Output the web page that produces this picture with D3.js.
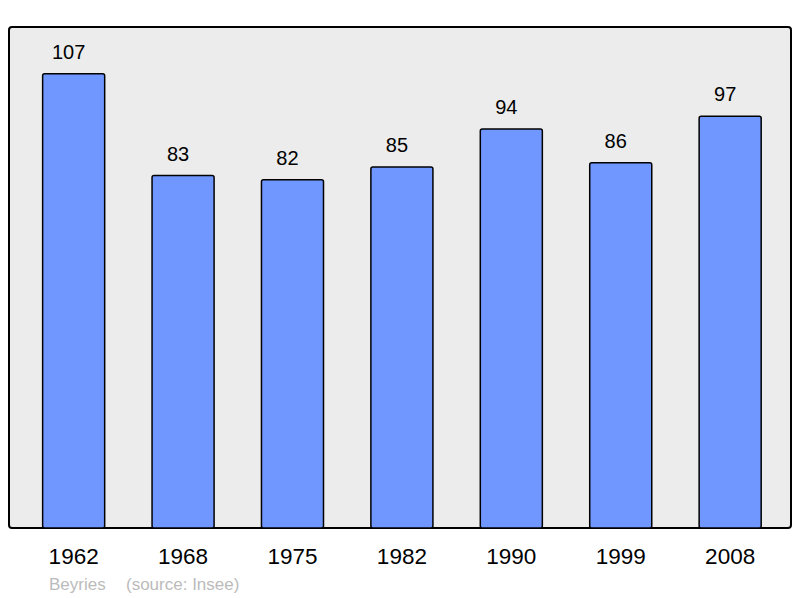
<!DOCTYPE html>
<html>
<head>
<meta charset="utf-8">
<script src="https://cdn.jsdelivr.net/npm/d3@7"></script>
<style>
  body { margin: 0; background: #fff; }
  text { font-family: "Liberation Sans", Arial, sans-serif; }
</style>
</head>
<body>
<div class="chart"></div>
<script>
const years = ["1962", "1968", "1975", "1982", "1990", "1999", "2008"];
const population = [107, 83, 82, 85, 94, 86, 97];
const town = "Beyries";
const source = "(source: Insee)";

const W = 800, H = 598;
const frame = { left: 9, right: 791, top: 27, bottom: 528 };

const svg = d3.select(".chart")
  .append("svg")
  .attr("width", W)
  .attr("height", H);

// frame background
svg.append("rect")
  .attr("x", frame.left)
  .attr("y", frame.top)
  .attr("width", frame.right - frame.left)
  .attr("height", frame.bottom - frame.top)
  .attr("rx", 3)
  .attr("fill", "#ececec")
  .attr("stroke", "#000")
  .attr("stroke-width", 2);

const data = years.map((y, i) => ({ year: y, value: population[i] }));

const x = d3.scaleBand()
  .domain(years)
  .range([frame.left, frame.right])
  .paddingInner(0.433)
  .paddingOuter(0.29)
  .align(0.53);

const y = d3.scaleLinear()
  .domain([0, 118])
  .range([frame.bottom, frame.top]);

// bars
svg.selectAll(".bar")
  .data(data)
  .enter()
  .append("rect")
  .attr("class", "bar")
  .attr("x", d => x(d.year))
  .attr("y", d => y(d.value))
  .attr("width", x.bandwidth())
  .attr("height", d => y(0) - y(d.value))
  .attr("rx", 2)
  .attr("fill", "#7097ff")
  .attr("stroke", "#000")
  .attr("stroke-width", 1.5);

// value labels (sit a little left of the bar centre, as in the original)
svg.selectAll(".val")
  .data(data)
  .enter()
  .append("text")
  .attr("x", d => x(d.year) + x.bandwidth() / 2 - 5)
  .attr("y", d => y(d.value) - 15)
  .attr("text-anchor", "middle")
  .attr("font-size", "20px")
  .attr("fill", "#000")
  .text(d => d.value);

// x axis labels
const xAxis = svg.append("g")
  .attr("transform", `translate(0, ${frame.bottom})`)
  .call(d3.axisBottom(x).tickSize(0).tickPadding(0));
xAxis.select(".domain").remove();
xAxis.selectAll("text")
  .attr("dy", null)
  .attr("y", 36)
  .attr("font-size", "22.5px")
  .attr("font-family", "Liberation Sans, Arial, sans-serif")
  .attr("fill", "#000");

// caption
svg.append("text")
  .attr("x", 49)
  .attr("y", 590)
  .attr("font-size", "17px")
  .attr("fill", "#bbbbbb")
  .text(town);

svg.append("text")
  .attr("x", 126)
  .attr("y", 590)
  .attr("font-size", "17px")
  .attr("fill", "#bbbbbb")
  .text(source);
</script>
</body>
</html>
